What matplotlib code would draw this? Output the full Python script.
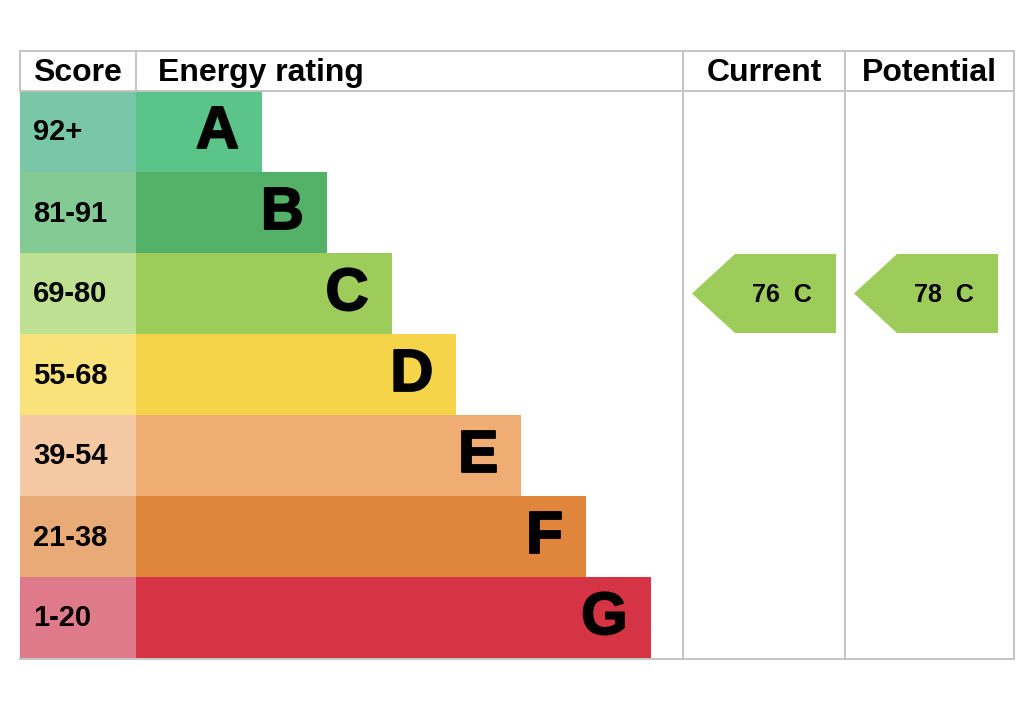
import matplotlib.pyplot as plt
import matplotlib.patheffects as pe
from matplotlib.patches import Rectangle, Polygon

# ratings data
bands = ["A", "B", "C", "D", "E", "F", "G"]
score_ranges = ["92+", "81-91", "69-80", "55-68", "39-54", "21-38", "1-20"]
score_colors = ["#7ac6a9", "#84ca94", "#bee092", "#fae27b", "#f4c8a2", "#e8aa76", "#df7a8b"]
bar_colors = ["#5bc488", "#53b267", "#9dcc5b", "#f6d449", "#efad74", "#e0853c", "#d53445"]
current_score, current_band = 76, "C"
potential_score, potential_band = 78, "C"

plt.rcParams['font.family'] = ['Liberation Sans', 'DejaVu Sans']

fig = plt.figure(figsize=(10.24, 7.11), dpi=100)
ax = fig.add_axes([0, 0, 1, 1])
ax.set_xlim(0, 1024)
ax.set_ylim(711, 0)
ax.axis('off')

# table layout (pixels)
left, right = 20, 1014
top, head_bot = 51, 91
row_h = 81
col_score, col_cur, col_pot = 136, 683, 845
bar_start_w, bar_step = 126, 64.8
bottom = head_bot + row_h * len(bands)
grid = "#c3c3c3"
heavy = [pe.withStroke(linewidth=1.3, foreground="black")]

for i, band in enumerate(bands):
    y0 = head_bot + i * row_h
    ax.add_patch(Rectangle((left, y0), col_score - left, row_h, color=score_colors[i], lw=0))
    bar_end = col_score + bar_start_w + i * bar_step
    ax.add_patch(Rectangle((col_score, y0), bar_end - col_score, row_h, color=bar_colors[i], lw=0))
    ax.text(left + 13, y0 + row_h / 2 + 1, score_ranges[i], fontsize=21, fontweight='bold',
            va='center', ha='left')
    ax.text(bar_end - 23, y0 + row_h / 2 + 1, band, fontsize=43, fontweight='bold',
            va='center', ha='right', path_effects=heavy)

# grid lines
lw = 1.4
ax.plot([left, right], [top, top], color=grid, lw=lw)
ax.plot([left, right], [head_bot, head_bot], color=grid, lw=lw)
ax.plot([left, right], [bottom + 1, bottom + 1], color=grid, lw=lw)
ax.plot([left, left], [top, head_bot], color=grid, lw=lw)
ax.plot([col_score, col_score], [top, head_bot], color=grid, lw=lw)
for x in (col_cur, col_pot, right):
    ax.plot([x, x], [top, bottom + 1], color=grid, lw=lw)

# headers
hy = (top + head_bot) / 2 + 2
ax.text(33, hy, "Score", fontsize=23, fontweight='bold', va='center', ha='left')
ax.text(158, hy, "Energy rating", fontsize=23, fontweight='bold', va='center', ha='left')
ax.text((col_cur + col_pot) / 2, hy, "Current", fontsize=23, fontweight='bold', va='center', ha='center')
ax.text((col_pot + right) / 2, hy, "Potential", fontsize=23, fontweight='bold', va='center', ha='center')


def arrow(x0, x1, band, score):
    i = bands.index(band)
    y0 = head_bot + i * row_h + 1
    y1 = y0 + row_h - 2
    ym = (y0 + y1) / 2
    pts = [(x0, ym), (x0 + 43, y0), (x1, y0), (x1, y1), (x0 + 43, y1)]
    ax.add_patch(Polygon(pts, closed=True, color=bar_colors[i], lw=0))
    ax.text((x0 + 43 + x1) / 2 - 4, ym + 2, f"{score}  {band}", fontsize=18,
            fontweight='bold', va='center', ha='center')


arrow(col_cur + 9, col_pot - 9, current_band, current_score)
arrow(col_pot + 9, right - 16, potential_band, potential_score)

fig.savefig("out.png", dpi=100, facecolor="white")
